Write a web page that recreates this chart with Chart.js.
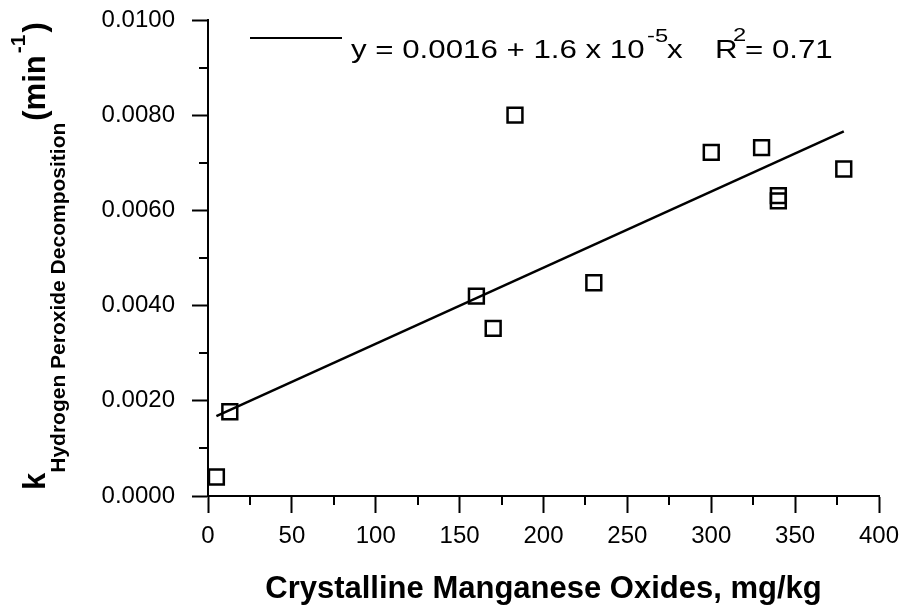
<!DOCTYPE html>
<html>
<head>
<meta charset="utf-8">
<script src="https://cdn.jsdelivr.net/npm/chart.js@4/dist/chart.umd.min.js"></script>
<style>
  body { margin: 0; background: #fff; }
</style>
</head>
<body>
<canvas id="kplot" width="903" height="610"></canvas>
<script>
// data
const mnOxides = [5, 13, 160, 170, 183, 230, 300, 330, 340, 340, 379];       // mg/kg
const kValues  = [0.0004, 0.00177, 0.0042, 0.00352, 0.0080, 0.00448, 0.00722, 0.00732, 0.00631, 0.0062, 0.00687];
const fitX = [5, 379];             // ends of the drawn regression line
const fitY = [0.00168, 0.00766];
const xMinorTicks = [25, 75, 125, 175, 225, 275, 325, 375];
const yMinorTicks = [0.001, 0.003, 0.005, 0.007, 0.009];

const FONT = "'Liberation Sans', Arial, Helvetica, sans-serif";

// draws a piece of text squeezed/stretched sideways
function putText(ctx, txt, x, y, font, sx) {
  ctx.save();
  ctx.translate(x, y);
  ctx.scale(sx, 1);
  ctx.font = font;
  ctx.fillText(txt, 0, 0);
  ctx.restore();
}

const extras = {
  id: 'extras',
  afterDraw(chart) {
    const ctx = chart.ctx;
    const xs = chart.scales.x, ys = chart.scales.y;
    const left = chart.chartArea.left, bottom = chart.chartArea.bottom;

    // minor ticks
    ctx.save();
    ctx.strokeStyle = '#000';
    ctx.lineWidth = 2;
    ctx.beginPath();
    xMinorTicks.forEach(v => {
      const px = Math.round(xs.getPixelForValue(v));
      ctx.moveTo(px, bottom);
      ctx.lineTo(px, bottom + 9);
    });
    yMinorTicks.forEach(v => {
      const py = Math.round(ys.getPixelForValue(v));
      ctx.moveTo(left - 9, py);
      ctx.lineTo(left, py);
    });
    ctx.stroke();
    ctx.restore();

    // legend: line sample + equation
    ctx.save();
    ctx.fillStyle = '#000';
    ctx.strokeStyle = '#000';
    ctx.lineWidth = 2;
    ctx.beginPath();
    ctx.moveTo(250, 38);
    ctx.lineTo(342, 38);
    ctx.stroke();
    ctx.textBaseline = 'alphabetic';
    const big = '25px ' + FONT, small = '19px ' + FONT;
    putText(ctx, 'y = 0.0016 + 1.6 x 10', 351, 58, big, 1.25);
    putText(ctx, '-5', 647, 42, small, 1.25);
    putText(ctx, 'x', 667, 58, big, 1.25);
    putText(ctx, 'R', 715, 58, big, 1.25);
    putText(ctx, '2', 733, 41, small, 1.25);
    putText(ctx, '= 0.71', 745, 58, big, 1.25);
    ctx.restore();

    // y axis title, rotated, with subscript and superscript
    ctx.save();
    ctx.fillStyle = '#000';
    ctx.translate(45, 490);
    ctx.rotate(-Math.PI / 2);
    ctx.textBaseline = 'alphabetic';
    const main = 'bold 31px ' + FONT, sub = 'bold 21px ' + FONT;
    let pos = 0;
    ctx.font = main;
    ctx.fillText('k', pos, 0);
    pos += ctx.measureText('k').width;
    ctx.font = sub;
    ctx.fillText('Hydrogen Peroxide Decomposition', pos, 20);
    pos += ctx.measureText('Hydrogen Peroxide Decomposition').width + 2;
    ctx.font = main;
    ctx.fillText('(min', pos, 0);
    pos += ctx.measureText('(min').width + 2;
    ctx.font = sub;
    ctx.fillText('-1', pos, -20);
    pos += ctx.measureText('-1').width + 2;
    ctx.font = main;
    ctx.fillText(')', pos, 0);
    ctx.restore();
  }
};

new Chart(document.getElementById('kplot'), {
  type: 'scatter',
  data: {
    datasets: [
      {
        data: mnOxides.map((x, i) => ({x: x, y: kValues[i]})),
        pointStyle: 'rect',
        pointRadius: 10.5,
        pointBorderWidth: 2.5,
        pointBorderColor: '#000',
        pointBackgroundColor: 'rgba(0,0,0,0)',
        clip: false
      },
      {
        type: 'line',
        data: fitX.map((x, i) => ({x: x, y: fitY[i]})),
        borderColor: '#000',
        borderWidth: 2.5,
        pointRadius: 0,
        fill: false,
        clip: false
      }
    ]
  },
  options: {
    responsive: false,
    animation: false,
    layout: { padding: { top: 20, right: 24, left: 0, bottom: 0 } },
    plugins: { legend: { display: false }, tooltip: { enabled: false } },
    scales: {
      x: {
        type: 'linear',
        min: 0, max: 400,
        ticks: { stepSize: 50, color: '#000', padding: 9, font: { family: FONT, size: 24 } },
        grid: { drawOnChartArea: false, tickLength: 17, tickWidth: 2, tickColor: '#000' },
        border: { color: '#000', width: 2 },
        title: {
          display: true,
          text: 'Crystalline Manganese Oxides, mg/kg',
          color: '#000',
          font: { family: FONT, size: 31, weight: 'bold' },
          padding: { top: 0, bottom: 2 }
        },
        afterFit: s => { s.height = 114; s.paddingLeft = 0; s.paddingRight = 0; }
      },
      y: {
        min: 0, max: 0.01,
        ticks: {
          stepSize: 0.002, color: '#000', padding: 17,
          font: { family: FONT, size: 24 },
          callback: v => Number(v).toFixed(4)
        },
        grid: { drawOnChartArea: false, tickLength: 16, tickWidth: 2, tickColor: '#000' },
        border: { color: '#000', width: 2 },
        afterFit: s => { s.width = 208; s.paddingTop = 0; s.paddingBottom = 0; }
      }
    }
  },
  plugins: [extras]
});
</script>
</body>
</html>
